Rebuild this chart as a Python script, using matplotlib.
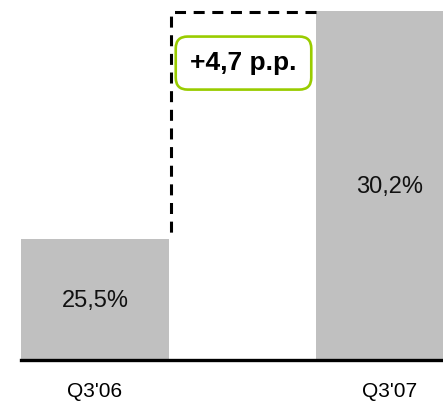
import matplotlib.pyplot as plt

# data
quarters = ["Q3'06", "Q3'07"]
share = [25.5, 30.2]
share_labels = ['25,5%', '30,2%']
change_label = '+4,7 p.p.'

plt.rcParams['font.family'] = ['Liberation Sans', 'DejaVu Sans']

fig = plt.figure(figsize=(4.43, 4.03), dpi=100)
ax = fig.add_axes([21 / 443, 43 / 403, 422 / 443, 360 / 403])

bar_w = 0.502
x = range(len(quarters))
ax.bar(x, share, width=bar_w, color='#c0c0c0', zorder=2)

# value labels in the middle of each bar
for xi, v, lab in zip(x, share, share_labels):
    ax.text(xi, (23 + v) / 2 - 0.03, lab, ha='center', va='center', fontsize=17, color='#111111', zorder=3)

# dashed bracket from bar 1 top up to bar 2 level
left = 0 + bar_w / 2 + 0.007
right = 1 - bar_w / 2
ax.plot([right, left, left], [share[1] - 0.02, share[1] - 0.02, share[0]],
        color='black', linestyle=(0, (3.6, 2.5)), linewidth=2.2, zorder=3)

# change label box
ax.text((left + right) / 2, 29.12, change_label, ha='center', va='center',
        fontsize=19, fontweight='bold', color='black', zorder=4,
        bbox=dict(boxstyle='round,pad=0.55,rounding_size=0.45', facecolor='white',
                  edgecolor='#99cc00', linewidth=1.9))

ax.set_xlim(-bar_w / 2, 1.18)
ax.set_ylim(23, 30.42)

for s in ['top', 'right', 'left']:
    ax.spines[s].set_visible(False)
ax.spines['bottom'].set_linewidth(2.4)
ax.spines['bottom'].set_zorder(5)
ax.set_yticks([])
ax.set_xticks(list(x))
ax.set_xticklabels(quarters, fontsize=15)
ax.tick_params(axis='x', length=0, pad=16)

fig.savefig('out.png', dpi=100)
